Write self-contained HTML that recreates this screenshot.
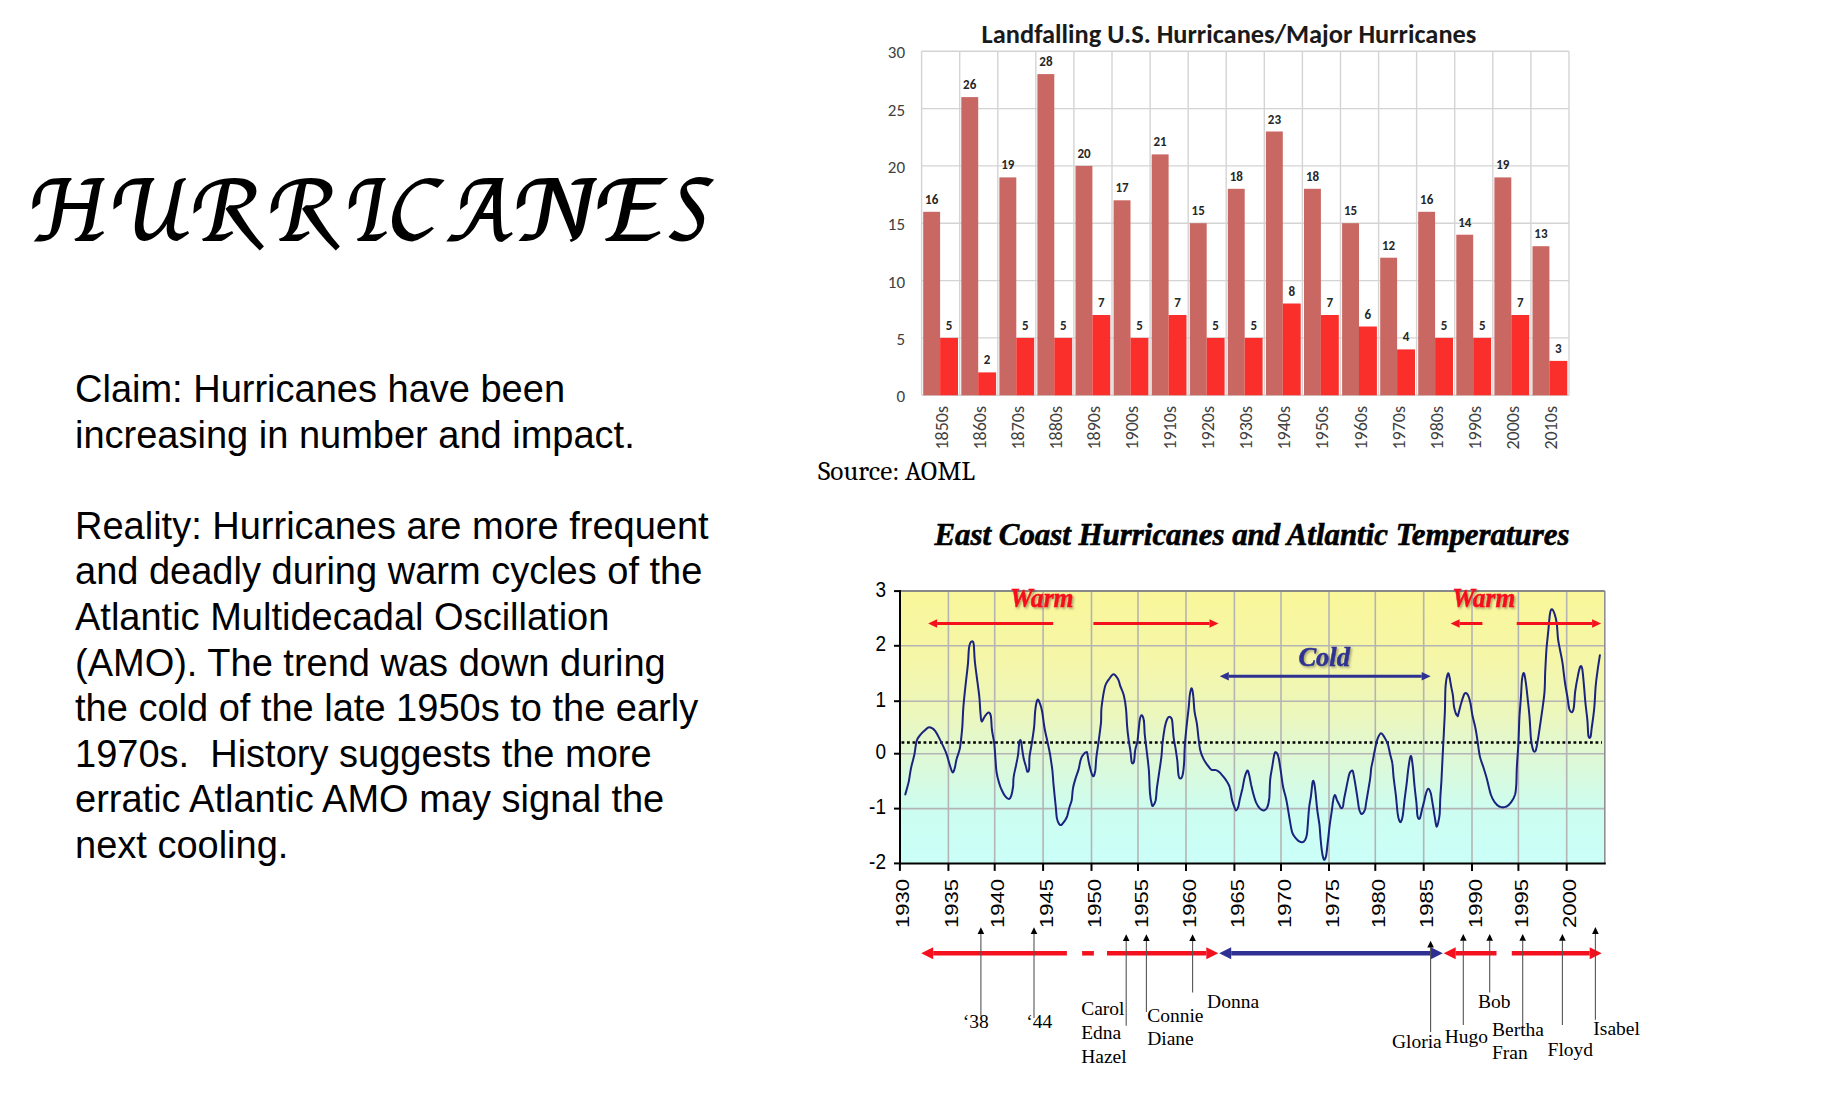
<!DOCTYPE html><html><head><meta charset="utf-8"><title>Hurricanes</title>
<style>html,body{margin:0;padding:0;background:#fff;width:1838px;height:1096px;overflow:hidden}
svg{display:block}</style></head><body>
<svg width="1838" height="1096" viewBox="0 0 1838 1096">
<defs>
<linearGradient id="bg" x1="0" y1="0" x2="0" y2="1">
<stop offset="0" stop-color="#faf79a"/><stop offset="0.25" stop-color="#f5f6a8"/><stop offset="0.45" stop-color="#ecf7bc"/><stop offset="0.6" stop-color="#dff8d4"/><stop offset="0.8" stop-color="#cdfdf0"/><stop offset="1" stop-color="#cafff8"/>
</linearGradient>
<filter id="sh" x="-10%" y="-10%" width="130%" height="140%"><feDropShadow dx="1.5" dy="1.5" stdDeviation="0.8" flood-color="#000" flood-opacity="0.35"/></filter>
</defs>

<text y="239.8" font-family="Felipa, 'Liberation Serif', serif" font-size="82" fill="#000" stroke="#000" stroke-width="1.8"><tspan x="34.1" textLength="70.6" lengthAdjust="spacingAndGlyphs">H</tspan><tspan x="115.2" textLength="73.7" lengthAdjust="spacingAndGlyphs">U</tspan><tspan x="195.1" textLength="66.9" lengthAdjust="spacingAndGlyphs">R</tspan><tspan x="272.1" textLength="65.9" lengthAdjust="spacingAndGlyphs">R</tspan><tspan x="350.0" textLength="37.2" lengthAdjust="spacingAndGlyphs">I</tspan><tspan x="389.6" textLength="50.8" lengthAdjust="spacingAndGlyphs">C</tspan><tspan x="456.1" textLength="56.0" lengthAdjust="spacingAndGlyphs">A</tspan><tspan x="520.5" textLength="77.1" lengthAdjust="spacingAndGlyphs">N</tspan><tspan x="599.6" textLength="65.5" lengthAdjust="spacingAndGlyphs">E</tspan><tspan x="672.1" textLength="41.4" lengthAdjust="spacingAndGlyphs">S</tspan></text>
<g font-family="'Liberation Sans', Arial, Helvetica, sans-serif" font-size="38" fill="#000" style="white-space:pre">
<text x="75" y="402.0">Claim: Hurricanes have been</text>
<text x="75" y="447.6">increasing in number and impact.</text>
<text x="75" y="538.7">Reality: Hurricanes are more frequent</text>
<text x="75" y="584.3">and deadly during warm cycles of the</text>
<text x="75" y="629.9">Atlantic Multidecadal Oscillation</text>
<text x="75" y="675.5">(AMO). The trend was down during</text>
<text x="75" y="721.1">the cold of the late 1950s to the early</text>
<text x="75" y="766.6">1970s.&#160; History suggests the more</text>
<text x="75" y="812.2">erratic Atlantic AMO may signal the</text>
<text x="75" y="857.8">next cooling.</text>
</g>
<g stroke="#d4d4d4" stroke-width="1.4" fill="none">
<line x1="921.6" y1="395.3" x2="1569.0" y2="395.3"/>
<line x1="921.6" y1="337.9" x2="1569.0" y2="337.9"/>
<line x1="921.6" y1="280.6" x2="1569.0" y2="280.6"/>
<line x1="921.6" y1="223.2" x2="1569.0" y2="223.2"/>
<line x1="921.6" y1="165.9" x2="1569.0" y2="165.9"/>
<line x1="921.6" y1="108.6" x2="1569.0" y2="108.6"/>
<line x1="921.6" y1="51.2" x2="1569.0" y2="51.2"/>
<line x1="921.6" y1="51.2" x2="921.6" y2="395.3"/>
<line x1="959.7" y1="51.2" x2="959.7" y2="395.3"/>
<line x1="997.8" y1="51.2" x2="997.8" y2="395.3"/>
<line x1="1035.8" y1="51.2" x2="1035.8" y2="395.3"/>
<line x1="1073.9" y1="51.2" x2="1073.9" y2="395.3"/>
<line x1="1112.0" y1="51.2" x2="1112.0" y2="395.3"/>
<line x1="1150.1" y1="51.2" x2="1150.1" y2="395.3"/>
<line x1="1188.2" y1="51.2" x2="1188.2" y2="395.3"/>
<line x1="1226.2" y1="51.2" x2="1226.2" y2="395.3"/>
<line x1="1264.3" y1="51.2" x2="1264.3" y2="395.3"/>
<line x1="1302.4" y1="51.2" x2="1302.4" y2="395.3"/>
<line x1="1340.5" y1="51.2" x2="1340.5" y2="395.3"/>
<line x1="1378.6" y1="51.2" x2="1378.6" y2="395.3"/>
<line x1="1416.6" y1="51.2" x2="1416.6" y2="395.3"/>
<line x1="1454.7" y1="51.2" x2="1454.7" y2="395.3"/>
<line x1="1492.8" y1="51.2" x2="1492.8" y2="395.3"/>
<line x1="1530.9" y1="51.2" x2="1530.9" y2="395.3"/>
<line x1="1569.0" y1="51.2" x2="1569.0" y2="395.3"/>
</g>
<g>
<rect x="923.2" y="211.8" width="16.9" height="183.5" fill="#c96862"/>
<rect x="940.1" y="337.9" width="17.9" height="57.4" fill="#fa2e2a"/>
<rect x="961.3" y="97.1" width="16.9" height="298.2" fill="#c96862"/>
<rect x="978.2" y="372.4" width="17.9" height="22.9" fill="#fa2e2a"/>
<rect x="999.4" y="177.4" width="16.9" height="217.9" fill="#c96862"/>
<rect x="1016.3" y="337.9" width="17.9" height="57.4" fill="#fa2e2a"/>
<rect x="1037.4" y="74.1" width="16.9" height="321.2" fill="#c96862"/>
<rect x="1054.3" y="337.9" width="17.9" height="57.4" fill="#fa2e2a"/>
<rect x="1075.5" y="165.9" width="16.9" height="229.4" fill="#c96862"/>
<rect x="1092.4" y="315.0" width="17.9" height="80.3" fill="#fa2e2a"/>
<rect x="1113.6" y="200.3" width="16.9" height="195.0" fill="#c96862"/>
<rect x="1130.5" y="337.9" width="17.9" height="57.4" fill="#fa2e2a"/>
<rect x="1151.7" y="154.4" width="16.9" height="240.9" fill="#c96862"/>
<rect x="1168.6" y="315.0" width="17.9" height="80.3" fill="#fa2e2a"/>
<rect x="1189.8" y="223.2" width="16.9" height="172.1" fill="#c96862"/>
<rect x="1206.7" y="337.9" width="17.9" height="57.4" fill="#fa2e2a"/>
<rect x="1227.8" y="188.8" width="16.9" height="206.5" fill="#c96862"/>
<rect x="1244.7" y="337.9" width="17.9" height="57.4" fill="#fa2e2a"/>
<rect x="1265.9" y="131.5" width="16.9" height="263.8" fill="#c96862"/>
<rect x="1282.8" y="303.5" width="17.9" height="91.8" fill="#fa2e2a"/>
<rect x="1304.0" y="188.8" width="16.9" height="206.5" fill="#c96862"/>
<rect x="1320.9" y="315.0" width="17.9" height="80.3" fill="#fa2e2a"/>
<rect x="1342.1" y="223.2" width="16.9" height="172.1" fill="#c96862"/>
<rect x="1359.0" y="326.5" width="17.9" height="68.8" fill="#fa2e2a"/>
<rect x="1380.2" y="257.7" width="16.9" height="137.6" fill="#c96862"/>
<rect x="1397.1" y="349.4" width="17.9" height="45.9" fill="#fa2e2a"/>
<rect x="1418.2" y="211.8" width="16.9" height="183.5" fill="#c96862"/>
<rect x="1435.1" y="337.9" width="17.9" height="57.4" fill="#fa2e2a"/>
<rect x="1456.3" y="234.7" width="16.9" height="160.6" fill="#c96862"/>
<rect x="1473.2" y="337.9" width="17.9" height="57.4" fill="#fa2e2a"/>
<rect x="1494.4" y="177.4" width="16.9" height="217.9" fill="#c96862"/>
<rect x="1511.3" y="315.0" width="17.9" height="80.3" fill="#fa2e2a"/>
<rect x="1532.5" y="246.2" width="16.9" height="149.1" fill="#c96862"/>
<rect x="1549.4" y="360.9" width="17.9" height="34.4" fill="#fa2e2a"/>
</g>
<g font-family="Carlito, Calibri, 'Liberation Sans', sans-serif" font-weight="bold" font-size="13" fill="#262626" text-anchor="middle">
<text x="931.7" y="203.8">16</text>
<text x="949.1" y="329.9">5</text>
<text x="969.7" y="89.1">26</text>
<text x="987.1" y="364.4">2</text>
<text x="1007.8" y="169.4">19</text>
<text x="1025.2" y="329.9">5</text>
<text x="1045.9" y="66.1">28</text>
<text x="1063.3" y="329.9">5</text>
<text x="1084.0" y="157.9">20</text>
<text x="1101.4" y="307.0">7</text>
<text x="1122.0" y="192.3">17</text>
<text x="1139.5" y="329.9">5</text>
<text x="1160.1" y="146.4">21</text>
<text x="1177.5" y="307.0">7</text>
<text x="1198.2" y="215.2">15</text>
<text x="1215.6" y="329.9">5</text>
<text x="1236.3" y="180.8">18</text>
<text x="1253.7" y="329.9">5</text>
<text x="1274.4" y="123.5">23</text>
<text x="1291.8" y="295.5">8</text>
<text x="1312.5" y="180.8">18</text>
<text x="1329.9" y="307.0">7</text>
<text x="1350.5" y="215.2">15</text>
<text x="1367.9" y="318.5">6</text>
<text x="1388.6" y="249.7">12</text>
<text x="1406.0" y="341.4">4</text>
<text x="1426.7" y="203.8">16</text>
<text x="1444.1" y="329.9">5</text>
<text x="1464.8" y="226.7">14</text>
<text x="1482.2" y="329.9">5</text>
<text x="1502.8" y="169.4">19</text>
<text x="1520.2" y="307.0">7</text>
<text x="1540.9" y="238.2">13</text>
<text x="1558.3" y="352.9">3</text>
</g>
<g font-family="Carlito, Calibri, 'Liberation Sans', sans-serif" font-size="17" fill="#404040" text-anchor="end">
<text x="905" y="402.3">0</text>
<text x="905" y="344.9">5</text>
<text x="905" y="287.6">10</text>
<text x="905" y="230.2">15</text>
<text x="905" y="172.9">20</text>
<text x="905" y="115.6">25</text>
<text x="905" y="58.2">30</text>
</g>
<g font-family="Carlito, Calibri, 'Liberation Sans', sans-serif" font-size="18" fill="#404040">
<text transform="translate(947.6,449.5) rotate(-90)">1850s</text>
<text transform="translate(985.7,449.5) rotate(-90)">1860s</text>
<text transform="translate(1023.8,449.5) rotate(-90)">1870s</text>
<text transform="translate(1061.9,449.5) rotate(-90)">1880s</text>
<text transform="translate(1100.0,449.5) rotate(-90)">1890s</text>
<text transform="translate(1138.0,449.5) rotate(-90)">1900s</text>
<text transform="translate(1176.1,449.5) rotate(-90)">1910s</text>
<text transform="translate(1214.2,449.5) rotate(-90)">1920s</text>
<text transform="translate(1252.3,449.5) rotate(-90)">1930s</text>
<text transform="translate(1290.4,449.5) rotate(-90)">1940s</text>
<text transform="translate(1328.4,449.5) rotate(-90)">1950s</text>
<text transform="translate(1366.5,449.5) rotate(-90)">1960s</text>
<text transform="translate(1404.6,449.5) rotate(-90)">1970s</text>
<text transform="translate(1442.7,449.5) rotate(-90)">1980s</text>
<text transform="translate(1480.8,449.5) rotate(-90)">1990s</text>
<text transform="translate(1518.8,449.5) rotate(-90)">2000s</text>
<text transform="translate(1556.9,449.5) rotate(-90)">2010s</text>
</g>
<text x="495" y="0" font-family="Carlito, Calibri, 'Liberation Sans', sans-serif" font-weight="bold" font-size="26.4" fill="#1a1a1a" text-anchor="middle" textLength="494.8" lengthAdjust="spacingAndGlyphs" transform="translate(734,42.8)">Landfalling U.S. Hurricanes/Major Hurricanes</text>
<text x="818" y="480" font-family="Caladea, Cambria, 'Liberation Serif', serif" font-size="27" fill="#000" textLength="157" lengthAdjust="spacingAndGlyphs">Source: AOML</text>
<text x="934.5" y="545" font-family="'Liberation Serif', 'Times New Roman', Times, serif" font-weight="bold" font-style="italic" font-size="31" textLength="635" lengthAdjust="spacingAndGlyphs" fill="#000" stroke="#000" stroke-width="0.6">East Coast Hurricanes and Atlantic Temperatures</text>
<rect x="900.0" y="591.1" width="704.8" height="272.3" fill="url(#bg)"/>
<g stroke="#b4b4b4" stroke-width="1.6">
<line x1="900.0" y1="645.8" x2="1604.8" y2="645.8"/>
<line x1="900.0" y1="701.2" x2="1604.8" y2="701.2"/>
<line x1="900.0" y1="753.7" x2="1604.8" y2="753.7"/>
<line x1="900.0" y1="808.6" x2="1604.8" y2="808.6"/>
<line x1="948.4" y1="591.1" x2="948.4" y2="863.4"/>
<line x1="994.7" y1="591.1" x2="994.7" y2="863.4"/>
<line x1="1043.1" y1="591.1" x2="1043.1" y2="863.4"/>
<line x1="1091.5" y1="591.1" x2="1091.5" y2="863.4"/>
<line x1="1138.0" y1="591.1" x2="1138.0" y2="863.4"/>
<line x1="1186.0" y1="591.1" x2="1186.0" y2="863.4"/>
<line x1="1234.4" y1="591.1" x2="1234.4" y2="863.4"/>
<line x1="1281.0" y1="591.1" x2="1281.0" y2="863.4"/>
<line x1="1329.0" y1="591.1" x2="1329.0" y2="863.4"/>
<line x1="1375.3" y1="591.1" x2="1375.3" y2="863.4"/>
<line x1="1423.7" y1="591.1" x2="1423.7" y2="863.4"/>
<line x1="1472.0" y1="591.1" x2="1472.0" y2="863.4"/>
<line x1="1518.4" y1="591.1" x2="1518.4" y2="863.4"/>
<line x1="1566.7" y1="591.1" x2="1566.7" y2="863.4"/>
<line x1="1604.8" y1="591.1" x2="1604.8" y2="863.4" stroke="#909090"/>
<line x1="900.0" y1="591.1" x2="1604.8" y2="591.1" stroke="#888" stroke-width="2"/>
</g>
<line x1="901.5" y1="742.5" x2="1602" y2="742.5" stroke="#000" stroke-width="2.7" stroke-dasharray="2.8 2.708"/>
<path d="M905.3,794.5 C905.8,792.4 907.7,786.3 908.7,781.9 C909.6,777.5 910.0,772.8 911.0,768.2 C911.9,763.7 913.4,759.1 914.4,754.5 C915.3,750.0 915.7,744.1 916.7,740.9 C917.6,737.6 918.8,736.9 920.1,735.2 C921.4,733.5 923.1,731.9 924.6,730.6 C926.2,729.3 927.5,727.2 929.2,727.2 C930.9,727.2 933.0,728.3 934.9,730.6 C936.8,732.9 938.7,737.1 940.6,740.9 C942.5,744.7 944.8,749.4 946.3,753.4 C947.8,757.4 948.7,761.7 949.7,764.8 C950.8,768.0 951.6,771.8 952.5,772.3 C953.3,772.9 954.1,770.4 954.7,768.2 C955.4,766.0 955.7,762.5 956.6,759.1 C957.4,755.7 959.0,753.0 960.0,747.7 C960.9,742.4 961.7,734.0 962.3,727.2 C962.8,720.3 962.8,713.9 963.4,706.7 C964.0,699.4 964.9,691.1 965.7,683.9 C966.5,676.6 967.4,669.4 968.0,663.3 C968.5,657.2 968.5,651.0 969.1,647.4 C969.7,643.8 970.6,642.2 971.4,641.7 C972.2,641.1 973.1,640.7 973.7,643.9 C974.2,647.2 974.2,655.2 974.8,661.0 C975.4,666.9 976.3,673.2 977.1,679.3 C977.9,685.4 978.8,691.8 979.4,697.5 C979.9,703.2 980.1,709.5 980.5,713.5 C980.9,717.5 980.9,721.1 981.7,721.5 C982.4,721.9 983.9,717.3 985.1,715.8 C986.2,714.3 987.6,712.4 988.5,712.4 C989.5,712.4 990.2,712.9 990.8,715.8 C991.4,718.6 991.4,724.9 991.9,729.5 C992.5,734.0 993.6,738.6 994.2,743.1 C994.8,747.7 995.0,752.1 995.3,756.8 C995.7,761.6 995.9,767.5 996.5,771.7 C997.1,775.8 997.8,778.7 998.8,781.9 C999.7,785.1 1001.0,788.6 1002.2,791.0 C1003.3,793.5 1004.5,795.4 1005.6,796.7 C1006.7,798.1 1008.1,799.2 1009.0,799.0 C1010.0,798.8 1010.6,797.7 1011.3,795.6 C1012.0,793.5 1012.7,789.5 1013.1,786.5 C1013.5,783.4 1013.1,780.8 1013.6,777.4 C1014.0,773.9 1015.1,769.8 1015.9,766.0 C1016.6,762.2 1017.6,758.5 1018.1,754.5 C1018.7,750.6 1018.8,744.3 1019.3,742.0 C1019.7,739.7 1020.4,739.5 1020.9,740.9 C1021.4,742.2 1021.8,746.9 1022.3,750.0 C1022.7,753.0 1023.2,756.3 1023.8,759.1 C1024.5,762.0 1025.6,765.0 1026.1,767.1 C1026.7,769.2 1026.8,771.3 1027.3,771.7 C1027.8,772.0 1028.7,771.8 1029.1,769.4 C1029.5,766.9 1029.1,761.2 1029.5,756.8 C1030.0,752.5 1031.1,748.1 1031.8,743.1 C1032.6,738.2 1033.5,732.7 1034.1,727.2 C1034.7,721.7 1034.7,714.6 1035.3,710.1 C1035.8,705.5 1036.8,701.0 1037.5,699.8 C1038.3,698.7 1039.1,701.3 1039.8,703.2 C1040.6,705.1 1041.3,707.2 1042.1,711.2 C1042.9,715.2 1043.4,721.9 1044.4,727.2 C1045.3,732.5 1046.8,738.6 1047.8,743.1 C1048.7,747.7 1049.3,750.0 1050.1,754.5 C1050.8,759.1 1051.8,765.6 1052.4,770.5 C1052.9,775.5 1053.1,780.0 1053.5,784.2 C1053.9,788.4 1054.3,791.8 1054.6,795.6 C1055.0,799.4 1055.4,803.2 1055.8,807.0 C1056.2,810.8 1056.3,815.6 1056.9,818.4 C1057.5,821.3 1058.4,823.0 1059.2,824.1 C1060.0,825.2 1060.5,825.4 1061.5,824.8 C1062.4,824.2 1063.9,822.1 1064.9,820.7 C1065.8,819.2 1066.4,818.4 1067.2,816.1 C1067.9,813.8 1068.7,809.7 1069.5,807.0 C1070.2,804.3 1071.2,803.2 1071.7,800.2 C1072.3,797.1 1072.3,792.2 1072.9,788.8 C1073.4,785.3 1074.2,782.9 1075.2,779.6 C1076.1,776.4 1077.6,772.8 1078.6,769.4 C1079.5,766.0 1079.9,761.8 1080.9,759.1 C1081.8,756.5 1083.3,754.5 1084.3,753.4 C1085.2,752.3 1086.1,752.3 1086.6,752.3 C1087.1,752.3 1086.8,751.1 1087.3,753.4 C1087.8,755.7 1088.6,762.2 1089.6,766.0 C1090.5,769.8 1092.0,775.5 1093.0,776.2 C1093.9,777.0 1094.7,773.7 1095.3,770.5 C1095.8,767.3 1095.8,761.8 1096.4,756.8 C1097.0,751.9 1097.9,746.6 1098.7,740.9 C1099.4,735.2 1100.5,727.9 1101.0,722.6 C1101.4,717.3 1101.0,713.5 1101.4,708.9 C1101.8,704.4 1102.6,699.2 1103.2,695.3 C1103.9,691.3 1104.6,687.7 1105.5,685.0 C1106.5,682.3 1107.6,681.1 1108.9,679.3 C1110.3,677.5 1112.0,674.3 1113.5,674.3 C1115.0,674.3 1116.9,677.3 1118.1,679.3 C1119.2,681.3 1119.4,683.5 1120.3,686.1 C1121.3,688.8 1122.8,691.5 1123.8,695.3 C1124.7,699.1 1125.5,703.6 1126.0,708.9 C1126.6,714.3 1126.7,721.9 1127.2,727.2 C1127.6,732.5 1128.2,736.7 1128.8,740.9 C1129.4,745.0 1130.1,748.7 1130.6,752.3 C1131.1,755.9 1131.2,761.0 1131.8,762.5 C1132.3,764.1 1133.5,763.5 1134.0,761.4 C1134.6,759.3 1134.6,753.4 1135.2,750.0 C1135.7,746.6 1136.7,745.8 1137.5,740.9 C1138.2,735.9 1139.0,724.6 1139.7,720.3 C1140.4,716.1 1140.9,715.3 1141.6,715.3 C1142.2,715.3 1143.3,717.2 1143.8,720.3 C1144.4,723.5 1144.3,729.1 1144.7,734.0 C1145.2,739.0 1145.9,743.9 1146.6,750.0 C1147.3,756.1 1148.3,763.3 1148.9,770.5 C1149.4,777.7 1149.5,787.8 1150.0,793.3 C1150.5,798.8 1151.1,801.5 1151.6,803.6 C1152.1,805.7 1152.3,806.4 1153.0,805.9 C1153.6,805.3 1155.0,803.0 1155.7,800.2 C1156.3,797.3 1156.3,793.3 1156.8,788.8 C1157.4,784.2 1158.4,778.1 1159.1,772.8 C1159.9,767.5 1160.8,761.8 1161.4,756.8 C1162.0,751.9 1162.0,748.1 1162.5,743.1 C1163.1,738.2 1164.1,731.2 1164.8,727.2 C1165.6,723.2 1166.3,720.9 1167.1,719.2 C1167.9,717.5 1169.0,716.7 1169.8,716.9 C1170.7,717.1 1171.5,717.1 1172.1,720.3 C1172.7,723.6 1172.9,731.4 1173.5,736.3 C1174.1,741.2 1175.1,745.8 1175.8,750.0 C1176.4,754.2 1176.9,757.2 1177.4,761.4 C1177.8,765.6 1178.0,772.2 1178.5,775.1 C1179.0,777.9 1179.6,778.5 1180.3,778.5 C1181.0,778.5 1182.0,777.9 1182.6,775.1 C1183.3,772.2 1183.9,766.0 1184.2,761.4 C1184.5,756.8 1184.3,753.4 1184.7,747.7 C1185.0,742.0 1185.8,734.0 1186.5,727.2 C1187.2,720.3 1188.2,712.2 1188.8,706.7 C1189.3,701.1 1189.4,697.2 1189.9,694.1 C1190.4,691.1 1191.2,688.0 1191.7,688.4 C1192.3,688.8 1192.9,692.6 1193.3,696.4 C1193.8,700.2 1193.9,706.8 1194.5,711.2 C1195.0,715.6 1196.1,718.4 1196.7,722.6 C1197.4,726.8 1197.8,731.7 1198.3,736.3 C1198.9,740.9 1199.3,746.2 1200.2,750.0 C1201.0,753.8 1202.3,756.5 1203.6,759.1 C1204.9,761.8 1206.8,764.2 1208.1,766.0 C1209.5,767.7 1210.2,769.1 1211.6,769.8 C1212.9,770.5 1214.8,769.6 1216.1,770.1 C1217.5,770.5 1218.4,771.3 1219.5,772.3 C1220.7,773.4 1221.8,774.8 1223.0,776.2 C1224.1,777.6 1225.3,778.9 1226.4,780.8 C1227.5,782.7 1228.9,784.4 1229.8,787.6 C1230.8,790.8 1231.3,796.9 1232.1,800.2 C1232.9,803.4 1233.7,805.3 1234.4,807.0 C1235.0,808.7 1235.3,810.4 1236.0,810.4 C1236.6,810.4 1237.6,808.7 1238.2,807.0 C1238.9,805.3 1238.9,803.2 1239.6,800.2 C1240.3,797.1 1241.5,792.6 1242.4,788.8 C1243.2,785.0 1243.8,780.4 1244.6,777.4 C1245.5,774.3 1246.6,770.9 1247.4,770.5 C1248.1,770.1 1248.6,772.8 1249.2,775.1 C1249.8,777.4 1250.3,780.8 1251.0,784.2 C1251.8,787.6 1252.9,792.6 1253.8,795.6 C1254.6,798.6 1255.1,800.3 1256.0,802.4 C1257.0,804.5 1258.1,806.8 1259.5,808.1 C1260.8,809.5 1262.7,810.6 1264.0,810.4 C1265.3,810.2 1266.6,809.1 1267.4,807.0 C1268.3,804.9 1268.8,802.4 1269.3,797.9 C1269.7,793.3 1269.7,784.6 1270.2,779.6 C1270.6,774.7 1271.3,772.4 1272.0,768.2 C1272.7,764.1 1273.6,757.2 1274.3,754.5 C1275.0,751.9 1275.4,751.9 1276.1,752.3 C1276.8,752.6 1277.7,753.8 1278.4,756.8 C1279.2,759.9 1279.9,765.6 1280.7,770.5 C1281.5,775.5 1282.0,781.5 1283.0,786.5 C1283.9,791.4 1285.4,795.2 1286.4,800.2 C1287.4,805.1 1288.2,810.8 1289.1,816.1 C1290.1,821.4 1291.0,828.5 1292.1,832.1 C1293.2,835.7 1294.4,836.3 1295.5,837.8 C1296.7,839.3 1297.8,840.4 1298.9,841.2 C1300.1,842.0 1301.3,842.5 1302.4,842.3 C1303.4,842.2 1304.3,841.4 1305.1,840.1 C1305.9,838.7 1306.4,837.6 1306.9,834.4 C1307.4,831.1 1307.7,825.2 1308.1,820.7 C1308.4,816.1 1308.7,811.2 1309.2,807.0 C1309.7,802.8 1310.5,799.8 1311.0,795.6 C1311.6,791.4 1312.1,784.0 1312.6,781.9 C1313.2,779.8 1313.7,781.2 1314.2,783.1 C1314.7,785.0 1315.1,788.9 1315.6,793.3 C1316.1,797.7 1316.5,804.0 1317.2,809.3 C1317.8,814.6 1318.9,820.3 1319.5,825.2 C1320.0,830.2 1320.2,834.7 1320.6,838.9 C1321.0,843.1 1321.3,847.1 1321.8,850.3 C1322.2,853.6 1322.9,856.8 1323.3,858.3 C1323.8,859.8 1324.2,860.0 1324.7,859.5 C1325.2,858.9 1325.8,857.9 1326.3,854.9 C1326.8,851.9 1327.3,846.1 1327.9,841.2 C1328.5,836.3 1329.0,830.6 1329.7,825.2 C1330.4,819.9 1331.4,813.5 1332.0,809.3 C1332.6,805.1 1332.7,802.5 1333.2,800.2 C1333.6,797.8 1334.3,795.1 1335.0,795.1 C1335.6,795.1 1336.3,798.6 1337.0,800.2 C1337.8,801.8 1338.6,803.4 1339.3,804.7 C1340.0,806.1 1340.5,807.8 1341.1,808.1 C1341.7,808.4 1342.5,807.9 1343.0,806.5 C1343.4,805.2 1343.4,802.7 1343.9,800.2 C1344.3,797.6 1345.0,794.5 1345.7,791.0 C1346.4,787.6 1347.3,782.7 1348.0,779.6 C1348.7,776.6 1349.0,774.3 1349.8,772.8 C1350.6,771.3 1351.9,770.1 1352.5,770.5 C1353.2,770.9 1353.2,772.8 1353.7,775.1 C1354.1,777.4 1354.7,780.8 1355.3,784.2 C1355.8,787.6 1356.5,791.6 1357.1,795.6 C1357.7,799.6 1358.4,805.3 1358.9,808.1 C1359.5,811.0 1359.9,811.8 1360.5,812.7 C1361.1,813.7 1361.6,814.4 1362.3,813.8 C1363.1,813.3 1364.4,811.2 1365.1,809.3 C1365.7,807.4 1365.6,805.9 1366.2,802.4 C1366.8,799.0 1367.8,792.9 1368.5,788.8 C1369.2,784.6 1369.9,780.8 1370.3,777.4 C1370.8,773.9 1370.8,771.3 1371.2,768.2 C1371.7,765.2 1372.4,762.5 1373.1,759.1 C1373.7,755.7 1374.6,751.1 1375.3,747.7 C1376.1,744.3 1376.7,741.0 1377.6,738.6 C1378.6,736.2 1379.9,733.5 1381.0,733.3 C1382.2,733.2 1383.3,735.6 1384.5,737.4 C1385.6,739.3 1386.9,741.4 1387.9,744.3 C1388.8,747.1 1389.4,751.3 1390.2,754.5 C1390.9,757.8 1391.9,759.9 1392.4,763.7 C1393.0,767.5 1393.0,772.0 1393.6,777.4 C1394.2,782.7 1395.2,789.5 1395.9,795.6 C1396.6,801.7 1397.1,809.7 1397.7,813.8 C1398.3,818.0 1398.8,819.4 1399.3,820.7 C1399.8,822.0 1400.3,822.6 1400.9,821.8 C1401.5,821.1 1402.1,819.7 1402.7,816.1 C1403.3,812.5 1403.9,805.5 1404.5,800.2 C1405.2,794.8 1405.9,789.5 1406.6,784.2 C1407.2,778.9 1407.8,772.6 1408.4,768.2 C1409.0,763.9 1409.5,759.9 1410.0,758.0 C1410.5,756.1 1410.9,755.1 1411.4,756.8 C1411.9,758.5 1412.4,763.3 1413.0,768.2 C1413.5,773.2 1414.0,780.8 1414.6,786.5 C1415.1,792.2 1415.9,797.5 1416.4,802.4 C1416.9,807.4 1417.0,813.5 1417.5,816.1 C1418.1,818.8 1419.1,819.5 1419.8,818.4 C1420.6,817.3 1421.3,812.3 1422.1,809.3 C1422.9,806.2 1423.7,802.8 1424.4,800.2 C1425.0,797.5 1425.3,795.2 1426.0,793.3 C1426.6,791.4 1427.5,788.8 1428.2,788.8 C1429.0,788.8 1430.1,791.0 1430.8,793.3 C1431.4,795.6 1431.7,798.6 1432.4,802.4 C1433.0,806.2 1434.0,812.1 1434.6,816.1 C1435.3,820.1 1435.9,825.2 1436.5,826.4 C1437.0,827.5 1437.5,825.1 1438.1,823.0 C1438.6,820.9 1439.3,818.0 1439.7,813.8 C1440.0,809.7 1440.0,803.6 1440.3,797.9 C1440.6,792.2 1441.1,786.5 1441.5,779.6 C1441.9,772.8 1442.2,764.4 1442.6,756.8 C1443.0,749.2 1443.4,741.6 1443.8,734.0 C1444.1,726.4 1444.6,719.2 1444.9,711.2 C1445.2,703.2 1445.1,692.4 1445.6,686.1 C1446.1,679.9 1447.2,675.1 1447.9,673.6 C1448.5,672.1 1448.9,674.9 1449.5,677.0 C1450.0,679.1 1450.5,683.1 1451.1,686.1 C1451.6,689.2 1452.4,691.8 1452.9,695.3 C1453.4,698.7 1453.5,703.6 1454.0,706.7 C1454.5,709.7 1455.3,712.1 1455.8,713.5 C1456.4,714.9 1457.1,715.0 1457.4,715.3 C1457.8,715.6 1457.4,717.4 1458.1,715.2 C1458.7,713.1 1460.3,706.1 1461.4,702.5 C1462.5,698.8 1463.6,694.8 1464.7,693.5 C1465.8,692.2 1466.8,693.3 1467.8,694.8 C1468.7,696.3 1469.6,699.1 1470.3,702.5 C1471.1,705.9 1471.5,711.0 1472.4,715.2 C1473.2,719.5 1474.6,723.8 1475.4,728.0 C1476.3,732.3 1476.8,736.1 1477.5,740.8 C1478.2,745.5 1478.9,751.9 1479.8,756.1 C1480.7,760.4 1481.9,762.5 1483.1,766.4 C1484.3,770.2 1485.7,774.5 1486.9,779.1 C1488.2,783.8 1489.5,790.6 1490.8,794.5 C1492.1,798.3 1493.1,800.1 1494.6,802.1 C1496.1,804.2 1497.8,806.0 1499.7,806.7 C1501.6,807.5 1504.2,807.5 1506.1,806.7 C1508.0,806.0 1509.7,804.2 1511.2,802.1 C1512.7,800.1 1514.2,797.5 1515.1,794.5 C1515.9,791.5 1516.0,788.9 1516.3,784.2 C1516.6,779.6 1516.5,773.2 1516.9,766.4 C1517.2,759.5 1518.0,751.4 1518.4,743.4 C1518.8,735.3 1519.0,725.5 1519.4,717.8 C1519.8,710.1 1520.5,703.7 1520.9,697.3 C1521.4,691.0 1521.5,683.5 1522.0,679.5 C1522.5,675.4 1523.3,672.2 1524.0,673.1 C1524.7,673.9 1525.4,680.1 1526.1,684.6 C1526.7,689.0 1527.2,694.4 1527.8,699.9 C1528.4,705.4 1529.1,711.4 1529.6,717.8 C1530.1,724.2 1530.4,732.9 1530.9,738.2 C1531.5,743.6 1532.2,747.6 1533.0,749.7 C1533.7,751.9 1534.8,752.1 1535.5,751.0 C1536.2,750.0 1536.7,746.8 1537.3,743.4 C1537.9,739.9 1538.6,735.7 1539.3,730.6 C1540.1,725.5 1541.0,719.1 1541.9,712.7 C1542.8,706.3 1543.9,699.1 1544.5,692.2 C1545.0,685.4 1544.9,679.0 1545.2,671.8 C1545.6,664.5 1546.0,655.6 1546.5,648.8 C1547.0,642.0 1547.7,636.9 1548.3,630.9 C1548.9,624.9 1549.4,616.6 1550.1,613.0 C1550.7,609.4 1551.4,609.0 1552.1,609.2 C1552.9,609.4 1553.9,611.9 1554.7,614.3 C1555.4,616.6 1556.2,619.2 1556.7,623.2 C1557.3,627.3 1557.5,634.3 1558.0,638.6 C1558.5,642.8 1559.1,645.0 1559.8,648.8 C1560.5,652.6 1561.7,657.7 1562.3,661.6 C1563.0,665.4 1563.2,668.4 1563.6,671.8 C1564.1,675.2 1564.3,677.8 1564.9,682.0 C1565.5,686.3 1566.7,692.9 1567.5,697.3 C1568.2,701.8 1568.5,706.4 1569.2,708.8 C1570.0,711.3 1571.0,712.4 1571.8,712.2 C1572.6,712.0 1573.3,710.9 1573.8,707.6 C1574.4,704.2 1574.5,697.3 1575.1,692.2 C1575.8,687.1 1576.8,681.2 1577.7,676.9 C1578.5,672.6 1579.5,668.0 1580.2,666.7 C1581.0,665.4 1581.6,665.8 1582.3,669.2 C1582.9,672.6 1583.6,681.6 1584.1,687.1 C1584.6,692.7 1584.8,696.9 1585.4,702.5 C1585.9,708.0 1586.9,714.8 1587.4,720.4 C1587.9,725.9 1587.9,732.9 1588.4,735.7 C1588.9,738.5 1589.9,738.2 1590.5,737.0 C1591.0,735.7 1591.1,732.9 1591.7,728.0 C1592.4,723.1 1593.7,714.4 1594.3,707.6 C1594.9,700.8 1595.1,693.1 1595.6,687.1 C1596.1,681.2 1596.6,677.1 1597.4,671.8 C1598.1,666.5 1599.5,657.9 1599.9,655.2" fill="none" stroke="#1a237e" stroke-width="2.0" stroke-linejoin="round" stroke-linecap="round"/>
<g stroke="#000" stroke-width="2">
<line x1="900.0" y1="590.1" x2="900.0" y2="864.4"/>
<line x1="899.0" y1="863.4" x2="1605.8" y2="863.4"/>
<line x1="894.0" y1="591.1" x2="900.0" y2="591.1"/>
<line x1="894.0" y1="645.8" x2="900.0" y2="645.8"/>
<line x1="894.0" y1="701.2" x2="900.0" y2="701.2"/>
<line x1="894.0" y1="753.7" x2="900.0" y2="753.7"/>
<line x1="894.0" y1="808.6" x2="900.0" y2="808.6"/>
<line x1="894.0" y1="863.4" x2="900.0" y2="863.4"/>
<line x1="899.9" y1="863.4" x2="899.9" y2="870.9"/>
<line x1="948.4" y1="863.4" x2="948.4" y2="870.9"/>
<line x1="994.7" y1="863.4" x2="994.7" y2="870.9"/>
<line x1="1043.1" y1="863.4" x2="1043.1" y2="870.9"/>
<line x1="1091.5" y1="863.4" x2="1091.5" y2="870.9"/>
<line x1="1138.0" y1="863.4" x2="1138.0" y2="870.9"/>
<line x1="1186.0" y1="863.4" x2="1186.0" y2="870.9"/>
<line x1="1234.4" y1="863.4" x2="1234.4" y2="870.9"/>
<line x1="1281.0" y1="863.4" x2="1281.0" y2="870.9"/>
<line x1="1329.0" y1="863.4" x2="1329.0" y2="870.9"/>
<line x1="1375.3" y1="863.4" x2="1375.3" y2="870.9"/>
<line x1="1423.7" y1="863.4" x2="1423.7" y2="870.9"/>
<line x1="1472.0" y1="863.4" x2="1472.0" y2="870.9"/>
<line x1="1518.4" y1="863.4" x2="1518.4" y2="870.9"/>
<line x1="1566.7" y1="863.4" x2="1566.7" y2="870.9"/>
</g>
<g font-family="'Liberation Sans', Arial, Helvetica, sans-serif" font-size="19" fill="#000" text-anchor="end">
<text transform="translate(886,596.7) scale(1,1.18)">3</text>
<text transform="translate(886,651.4) scale(1,1.18)">2</text>
<text transform="translate(886,706.8) scale(1,1.18)">1</text>
<text transform="translate(886,759.3) scale(1,1.18)">0</text>
<text transform="translate(886,814.2) scale(1,1.18)">-1</text>
<text transform="translate(886,869.0) scale(1,1.18)">-2</text>
</g>
<g font-family="'Liberation Sans', Arial, Helvetica, sans-serif" font-size="19" fill="#000">
<text transform="translate(909.4,928) rotate(-90)" textLength="49" lengthAdjust="spacingAndGlyphs">1930</text>
<text transform="translate(957.9,928) rotate(-90)" textLength="49" lengthAdjust="spacingAndGlyphs">1935</text>
<text transform="translate(1004.2,928) rotate(-90)" textLength="49" lengthAdjust="spacingAndGlyphs">1940</text>
<text transform="translate(1052.6,928) rotate(-90)" textLength="49" lengthAdjust="spacingAndGlyphs">1945</text>
<text transform="translate(1101.0,928) rotate(-90)" textLength="49" lengthAdjust="spacingAndGlyphs">1950</text>
<text transform="translate(1147.5,928) rotate(-90)" textLength="49" lengthAdjust="spacingAndGlyphs">1955</text>
<text transform="translate(1195.5,928) rotate(-90)" textLength="49" lengthAdjust="spacingAndGlyphs">1960</text>
<text transform="translate(1243.9,928) rotate(-90)" textLength="49" lengthAdjust="spacingAndGlyphs">1965</text>
<text transform="translate(1290.5,928) rotate(-90)" textLength="49" lengthAdjust="spacingAndGlyphs">1970</text>
<text transform="translate(1338.5,928) rotate(-90)" textLength="49" lengthAdjust="spacingAndGlyphs">1975</text>
<text transform="translate(1384.8,928) rotate(-90)" textLength="49" lengthAdjust="spacingAndGlyphs">1980</text>
<text transform="translate(1433.2,928) rotate(-90)" textLength="49" lengthAdjust="spacingAndGlyphs">1985</text>
<text transform="translate(1481.5,928) rotate(-90)" textLength="49" lengthAdjust="spacingAndGlyphs">1990</text>
<text transform="translate(1527.9,928) rotate(-90)" textLength="49" lengthAdjust="spacingAndGlyphs">1995</text>
<text transform="translate(1576.2,928) rotate(-90)" textLength="49" lengthAdjust="spacingAndGlyphs">2000</text>
</g>
<line x1="937.1" y1="623.5" x2="1053.2" y2="623.5" stroke="#f5101e" stroke-width="3"/><polygon points="928.1,623.5 937.1,619.2 937.1,627.8" fill="#f5101e"/>
<line x1="1093.4" y1="623.5" x2="1209.5" y2="623.5" stroke="#f5101e" stroke-width="3"/><polygon points="1218.5,623.5 1209.5,619.2 1209.5,627.8" fill="#f5101e"/>
<line x1="1459.6" y1="623.5" x2="1482.4" y2="623.5" stroke="#f5101e" stroke-width="3"/><polygon points="1450.6,623.5 1459.6,619.2 1459.6,627.8" fill="#f5101e"/>
<line x1="1516.7" y1="623.5" x2="1592.1" y2="623.5" stroke="#f5101e" stroke-width="3"/><polygon points="1601.1,623.5 1592.1,619.2 1592.1,627.8" fill="#f5101e"/>
<line x1="1228.8" y1="676.3" x2="1421.7" y2="676.3" stroke="#2e3192" stroke-width="3"/><polygon points="1219.8,676.3 1228.8,672.0 1228.8,680.5" fill="#2e3192"/><polygon points="1430.7,676.3 1421.7,672.0 1421.7,680.5" fill="#2e3192"/>
<g font-family="'Liberation Serif', 'Times New Roman', Times, serif" font-weight="bold" font-style="italic" font-size="27.5" filter="url(#sh)" stroke-width="0.5">
<text x="1010" y="607" fill="#f5101e" stroke="#f5101e" textLength="63.5" lengthAdjust="spacingAndGlyphs">Warm</text>
<text x="1452.2" y="607" fill="#f5101e" stroke="#f5101e" textLength="63" lengthAdjust="spacingAndGlyphs">Warm</text>
<text x="1298.4" y="666" fill="#2e3192" stroke="#2e3192" textLength="51.6" lengthAdjust="spacingAndGlyphs">Cold</text>
</g>
<line x1="933.2" y1="953.3" x2="1066.9" y2="953.3" stroke="#f5101e" stroke-width="4.5"/><polygon points="921.2,953.3 933.2,947.3 933.2,959.3" fill="#f5101e"/>
<line x1="1082.1" y1="953.3" x2="1093.9" y2="953.3" stroke="#f5101e" stroke-width="4.5"/>
<line x1="1107.0" y1="953.3" x2="1206.3" y2="953.3" stroke="#f5101e" stroke-width="4.5"/><polygon points="1218.3,953.3 1206.3,947.3 1206.3,959.3" fill="#f5101e"/>
<line x1="1231.2" y1="953.3" x2="1430.8" y2="953.3" stroke="#2e3192" stroke-width="4.5"/><polygon points="1219.2,953.3 1231.2,947.3 1231.2,959.3" fill="#2e3192"/><polygon points="1442.8,953.3 1430.8,947.3 1430.8,959.3" fill="#2e3192"/>
<line x1="1455.7" y1="953.3" x2="1496.5" y2="953.3" stroke="#f5101e" stroke-width="4.5"/><polygon points="1443.7,953.3 1455.7,947.3 1455.7,959.3" fill="#f5101e"/>
<line x1="1511.8" y1="953.3" x2="1589.7" y2="953.3" stroke="#f5101e" stroke-width="4.5"/><polygon points="1601.7,953.3 1589.7,947.3 1589.7,959.3" fill="#f5101e"/>
<line x1="980.9" y1="933.8" x2="980.9" y2="1016" stroke="#555" stroke-width="1.1"/>
<polygon points="980.9,927.3 977.6,934.0999999999999 984.1999999999999,934.0999999999999" fill="#000"/>
<line x1="1034" y1="933.8" x2="1034" y2="1018" stroke="#555" stroke-width="1.1"/>
<polygon points="1034,927.3 1030.7,934.0999999999999 1037.3,934.0999999999999" fill="#000"/>
<line x1="1126.2" y1="940.7" x2="1126.2" y2="1025.8" stroke="#555" stroke-width="1.1"/>
<polygon points="1126.2,934.2 1122.9,941.0 1129.5,941.0" fill="#000"/>
<line x1="1146.4" y1="940.7" x2="1146.4" y2="1012" stroke="#555" stroke-width="1.1"/>
<polygon points="1146.4,934.2 1143.1000000000001,941.0 1149.7,941.0" fill="#000"/>
<line x1="1192.6" y1="940.7" x2="1192.6" y2="992.5" stroke="#555" stroke-width="1.1"/>
<polygon points="1192.6,934.2 1189.3,941.0 1195.8999999999999,941.0" fill="#000"/>
<line x1="1430.6" y1="947.3" x2="1430.6" y2="1032" stroke="#555" stroke-width="1.1"/>
<polygon points="1430.6,940.8 1427.3,947.5999999999999 1433.8999999999999,947.5999999999999" fill="#000"/>
<line x1="1463.3" y1="940.5" x2="1463.3" y2="1025" stroke="#555" stroke-width="1.1"/>
<polygon points="1463.3,934.0 1460.0,940.8 1466.6,940.8" fill="#000"/>
<line x1="1489.7" y1="940.5" x2="1489.7" y2="992.4" stroke="#555" stroke-width="1.1"/>
<polygon points="1489.7,934.0 1486.4,940.8 1493.0,940.8" fill="#000"/>
<line x1="1522.7" y1="940.5" x2="1522.7" y2="1025" stroke="#555" stroke-width="1.1"/>
<polygon points="1522.7,934.0 1519.4,940.8 1526.0,940.8" fill="#000"/>
<line x1="1562.4" y1="940.5" x2="1562.4" y2="1025" stroke="#555" stroke-width="1.1"/>
<polygon points="1562.4,934.0 1559.1000000000001,940.8 1565.7,940.8" fill="#000"/>
<line x1="1595.4" y1="933.6" x2="1595.4" y2="1019.8" stroke="#555" stroke-width="1.1"/>
<polygon points="1595.4,927.1 1592.1000000000001,933.9 1598.7,933.9" fill="#000"/>
<g font-family="'Liberation Serif', 'Times New Roman', Times, serif" font-size="19.5" fill="#000">
<text x="962.7" y="1028.1">‘38</text>
<text x="1026.3" y="1028.1">‘44</text>
<text x="1081.2" y="1015.4">Carol</text>
<text x="1081.2" y="1038.8">Edna</text>
<text x="1081.2" y="1062.5">Hazel</text>
<text x="1147.2" y="1021.8">Connie</text>
<text x="1147.2" y="1045.3">Diane</text>
<text x="1207.1" y="1008.1">Donna</text>
<text x="1391.9" y="1048">Gloria</text>
<text x="1444.7" y="1043.4">Hugo</text>
<text x="1478" y="1008.4">Bob</text>
<text x="1492" y="1036.1">Bertha</text>
<text x="1492" y="1059.4">Fran</text>
<text x="1547.6" y="1055.6">Floyd</text>
<text x="1593.3" y="1035.3">Isabel</text>
</g>
</svg></body></html>
